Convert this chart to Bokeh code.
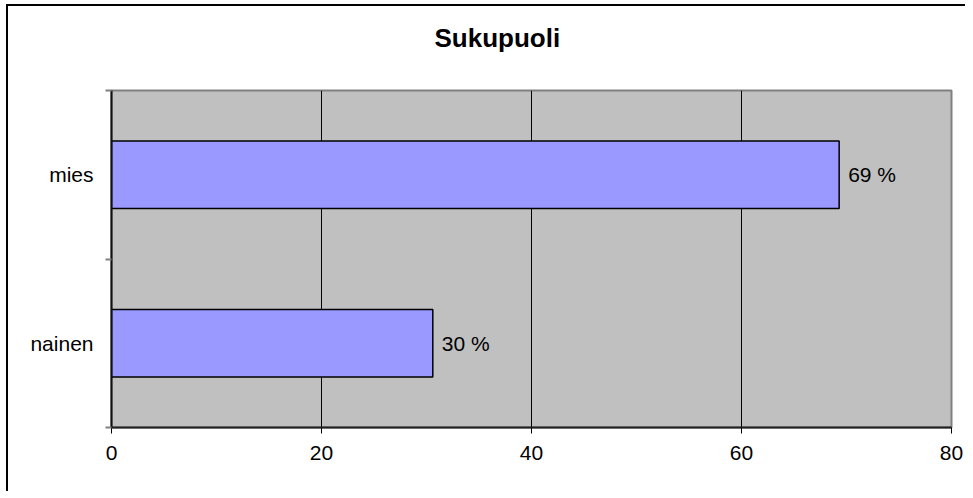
from bokeh.plotting import figure
from bokeh.models import FixedTicker, ColumnDataSource, LabelSet, Title
from bokeh.core.properties import value
from bokeh.embed import file_html
from bokeh.resources import INLINE

# Data
title_text = "Sukupuoli"
categories = ["nainen", "mies"]
values = [30.6, 69.3]
value_labels = ["30 %", "69 %"]
x_ticks = [0, 20, 40, 60, 80]

ypos = [i + 0.5 for i in range(len(categories))]
source = ColumnDataSource(dict(y=ypos, v=values, lab=value_labels))

FONT = "Liberation Sans"

p = figure(width=959, height=487, x_range=(0, 80), y_range=(0, len(categories)),
           output_backend="svg", toolbar_location=None,
           min_border_left=103, min_border_right=16, min_border_top=84, min_border_bottom=66)
p.styles = {"border-top": "2px solid black", "border-left": "2px solid black",
            "margin-left": "6px", "margin-top": "4px"}

p.title = Title(text=title_text, align="left", offset=323, standoff=0, vertical_align="bottom",
                padding=(0, 0, 0, 38),
                text_font=FONT, text_font_size="26px", text_font_style="bold", text_color="black")

p.background_fill_color = "#C0C0C0"
p.border_fill_color = "white"
p.outline_line_color = "#808080"
p.outline_line_width = 2

p.hbar(y="y", right="v", left=0, height=0.4, source=source,
       fill_color="#9999FF", line_color="black", line_width=1.5)

labels = LabelSet(x="v", y="y", text="lab", source=source, x_offset=9,
                  text_baseline="middle", text_font=value(FONT), text_font_size=value("21px"),
                  text_color="black")
p.add_layout(labels)

# x axis
p.xaxis.ticker = FixedTicker(ticks=x_ticks)
p.xaxis.major_label_text_font = FONT
p.xaxis.major_label_text_font_size = "21px"
p.xaxis.major_label_text_color = "black"
p.xaxis.axis_line_color = "#202020"
p.xaxis.axis_line_width = 2
p.xaxis.major_tick_line_color = "black"
p.xaxis.major_tick_in = 0
p.xaxis.major_tick_out = 6
p.xaxis.minor_tick_line_color = None
p.xaxis.major_label_standoff = 12

# y axis: labels at category centres, tick marks at band boundaries
p.yaxis.ticker = FixedTicker(ticks=ypos, minor_ticks=list(range(len(categories) + 1)))
p.yaxis.major_label_overrides = {y: c for y, c in zip(ypos, categories)}
p.yaxis.major_label_text_font = FONT
p.yaxis.major_label_text_font_size = "21px"
p.yaxis.major_label_text_color = "black"
p.yaxis.axis_line_color = "#101010"
p.yaxis.axis_line_width = 2
p.yaxis.major_tick_line_color = None
p.yaxis.major_tick_in = 0
p.yaxis.major_tick_out = 6
p.yaxis.minor_tick_line_color = "#808080"
p.yaxis.minor_tick_line_width = 2
p.yaxis.minor_tick_in = 0
p.yaxis.minor_tick_out = 6
p.yaxis.major_label_standoff = 12

p.xgrid.ticker = FixedTicker(ticks=[20, 40, 60])
p.xgrid.grid_line_color = "black"
p.xgrid.grid_line_width = 1
p.ygrid.grid_line_color = None

open("out.html", "w").write(file_html(p, INLINE))
